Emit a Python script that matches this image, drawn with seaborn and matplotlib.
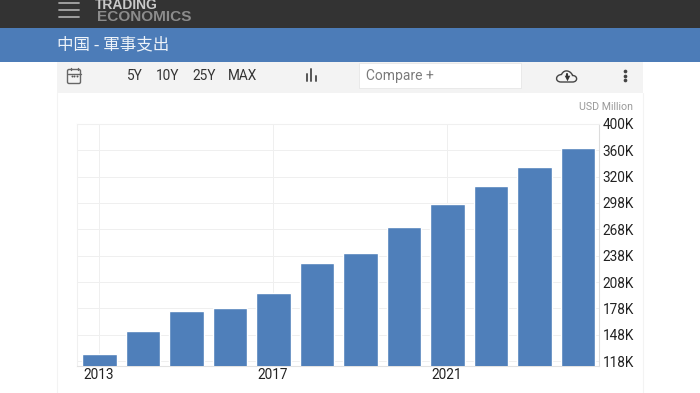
import numpy as np
import pandas as pd
import seaborn as sns
import matplotlib.pyplot as plt
from matplotlib.patches import Rectangle, FancyBboxPatch, PathPatch
from matplotlib.path import Path

years = ['2013', '2014', '2015', '2016', '2017', '2018', '2019', '2020', '2021', '2022', '2023', '2024']
spending = [125.8, 152.6, 175, 178.5, 195.6, 229.6, 241.5, 270.5, 296.9, 312.4, 335, 363.4]

# the axis labels are not evenly spaced in value, but they are in pixels
axis_values = [88, 118, 148, 178, 208, 238, 268, 298, 320, 360, 400, 440]
tick_values = [118, 148, 178, 208, 238, 268, 298, 320, 360, 400]
tick_labels = ['118K', '148K', '178K', '208K', '238K', '268K', '298K', '320K', '360K', '400K']
shown_years = ['2013', '2017', '2021']
range_buttons = ['5Y', '10Y', '25Y', 'MAX']

BLUE = '#4f7fba'
W, H = 700, 393


def forward(y):
    return np.interp(y, axis_values, np.arange(len(axis_values)))


def inverse(y):
    return np.interp(y, np.arange(len(axis_values)), axis_values)


sns.set_theme(style='white')
plt.rcParams['font.family'] = ['Roboto', 'DejaVu Sans']

fig = plt.figure(figsize=(7, 3.93), dpi=100)

# page furniture, in pixels
bg = fig.add_axes([0, 0, 1, 1], zorder=0)
bg.set_xlim(0, W)
bg.set_ylim(H, 0)
bg.axis('off')
bg.add_patch(Rectangle((0, 0), W, 28, color='#333333', lw=0))
bg.add_patch(Rectangle((0, 28), W, 33.5, color='#4c7cb8', lw=0))
bg.add_patch(Rectangle((57, 62), 586, 31, color='#f3f3f3', lw=0))
bg.add_patch(Rectangle((359, 63), 162, 25, color='white', ec='#e6e6e6', lw=0.6))
bg.plot([57, 57], [93, 393], color='#f3f3f3', lw=0.8)
bg.plot([643, 643], [93, 393], color='#f3f3f3', lw=0.8)

for y in [3, 10, 17]:
    bg.plot([59, 79], [y, y], color='#a8a8a8', lw=1.3)
bg.text(95, 5, 'TRADING', family='Liberation Sans', weight='bold', fontsize=10, color='#c9c9c9', va='center')
bg.text(97, 17, 'ECONOMICS', family='Liberation Sans', weight='bold', fontsize=11.1, color='#8c8c8c', va='center')
bg.text(57, 44.5, '中国 - 軍事支出', family=['Noto Sans CJK TC', 'DejaVu Sans'], fontsize=11.9, color='#eef3f9', va='center')

# calendar icon
bg.add_patch(FancyBboxPatch((67.5, 69.5), 13, 14, boxstyle='round,pad=0,rounding_size=1.5', fc='none', ec='#666666', lw=1))
bg.plot([67.5, 80.5], [73.5, 73.5], color='#666666', lw=1)
bg.plot([70.5, 70.5], [67.5, 69.5], color='#666666', lw=1)
bg.plot([77.5, 77.5], [67.5, 69.5], color='#666666', lw=1)
bg.scatter([71.5, 74, 76.5], [76, 76, 76], s=2, color='#555555', lw=0)

for x, label in zip([134.7, 167.5, 203.8, 242.8], range_buttons):
    bg.text(x, 76.5, label, fontsize=9.8, color='#333333', ha='center', va='center')

# bar chart icon
for x, y0 in zip([306.5, 311, 315.5], [74, 69, 76]):
    bg.plot([x, x], [y0, 81], color='#555555', lw=1.4)

bg.text(366.5, 76, 'Compare +', fontsize=10, color='#7b7b7b', va='center')

# cloud icon
cloud = Path(
    [(561, 82), (572.5, 82), (578, 82), (578, 75.5), (572.5, 75.5),
     (571.5, 71.5), (564.5, 68), (561.5, 74.5),
     (555, 75), (555, 82), (561, 82)],
    [Path.MOVETO, Path.LINETO, Path.CURVE4, Path.CURVE4, Path.CURVE4,
     Path.CURVE4, Path.CURVE4, Path.CURVE4,
     Path.CURVE4, Path.CURVE4, Path.CURVE4],
)
bg.add_patch(PathPatch(cloud, fc='none', ec='#444444', lw=1))
bg.plot([566.5, 566.5], [73.5, 77], color='#333333', lw=1.5)
bg.scatter([566.5], [77.5], marker='v', s=16, color='#333333', lw=0)

bg.scatter([625, 625, 625], [70.5, 75.5, 80], s=7, color='#444444', lw=0)
bg.text(633, 106.5, 'USD Million', fontsize=7.7, color='#999999', ha='right', va='center')

# chart
ax = fig.add_axes([76.7 / W, 1 - 365.8 / H, 522.6 / W, 242 / H], zorder=1)
ax.patch.set_alpha(0)
df = pd.DataFrame({'year': years, 'spending': spending})
sns.barplot(data=df, x='year', y='spending', color=BLUE, saturation=1, width=0.79, ax=ax, zorder=3)

ax.set_yscale('function', functions=(forward, inverse))
ax.set_ylim(112.8, 400)
ax.set_xlim(-0.524, 11.49)
ax.yaxis.tick_right()
ax.set_yticks(tick_values)
ax.set_yticklabels(tick_labels)
ax.minorticks_off()
ax.set_xticks([-0.02, 3.98, 7.98])
ax.set_xticklabels(shown_years)
ax.set_xlabel('')
ax.set_ylabel('')
ax.tick_params(axis='both', length=0, labelsize=9.8, labelcolor='#222222')
ax.tick_params(axis='y', pad=2.5)
ax.tick_params(axis='x', pad=1.5)
ax.grid(True, color='#efefef', lw=0.7, zorder=0)
ax.set_axisbelow(True)
for side, color in zip(['left', 'top', 'right', 'bottom'], ['#f0f0f0', '#f0f0f0', '#dcdcdc', '#e2e2e2']):
    ax.spines[side].set_visible(True)
    ax.spines[side].set_color(color)
    ax.spines[side].set_linewidth(0.8)

fig.savefig('out.png', dpi=100)
